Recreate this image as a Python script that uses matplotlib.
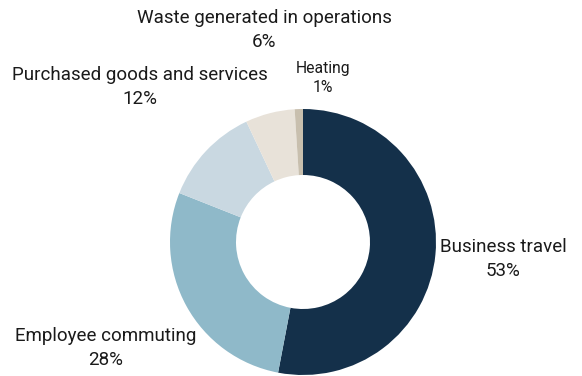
import matplotlib

matplotlib.use("Agg")
import matplotlib.pyplot as plt

categories = [
    "Business travel",
    "Employee commuting",
    "Purchased goods and services",
    "Waste generated in operations",
    "Heating",
]
shares = [53, 28, 12, 6, 1]

colors = ["#14304a", "#8fb9c9", "#c9d8e1", "#e8e2d9", "#c8bfae"]

# label anchor (x, y) in pixel space (y measured from top) and font size
label_pos = [(503, 259), (106, 348), (140, 87), (264, 30), (323, 78)]
label_size = [13.5, 13.5, 13.5, 13.5, 11.3]

W, H = 582, 376
fig = plt.figure(figsize=(W / 100, H / 100), dpi=100)
ax = fig.add_axes([0, 0, 1, 1])

ax.pie(
    shares,
    colors=colors,
    startangle=90,
    counterclock=False,
    center=(303, H - 242),
    radius=133,
    wedgeprops=dict(width=66, edgecolor="none"),
    frame=True,
)
ax.set_xlim(0, W)
ax.set_ylim(0, H)
ax.set_aspect("equal")
ax.axis("off")

for name, val, (px, py), fs in zip(categories, shares, label_pos, label_size):
    ax.text(
        px, H - py, f"{name}\n{val}%",
        ha="center", va="center", fontsize=fs, family="Roboto",
        color="#1a1a1a", linespacing=1.4,
    )

fig.savefig("out.png", dpi=100)
